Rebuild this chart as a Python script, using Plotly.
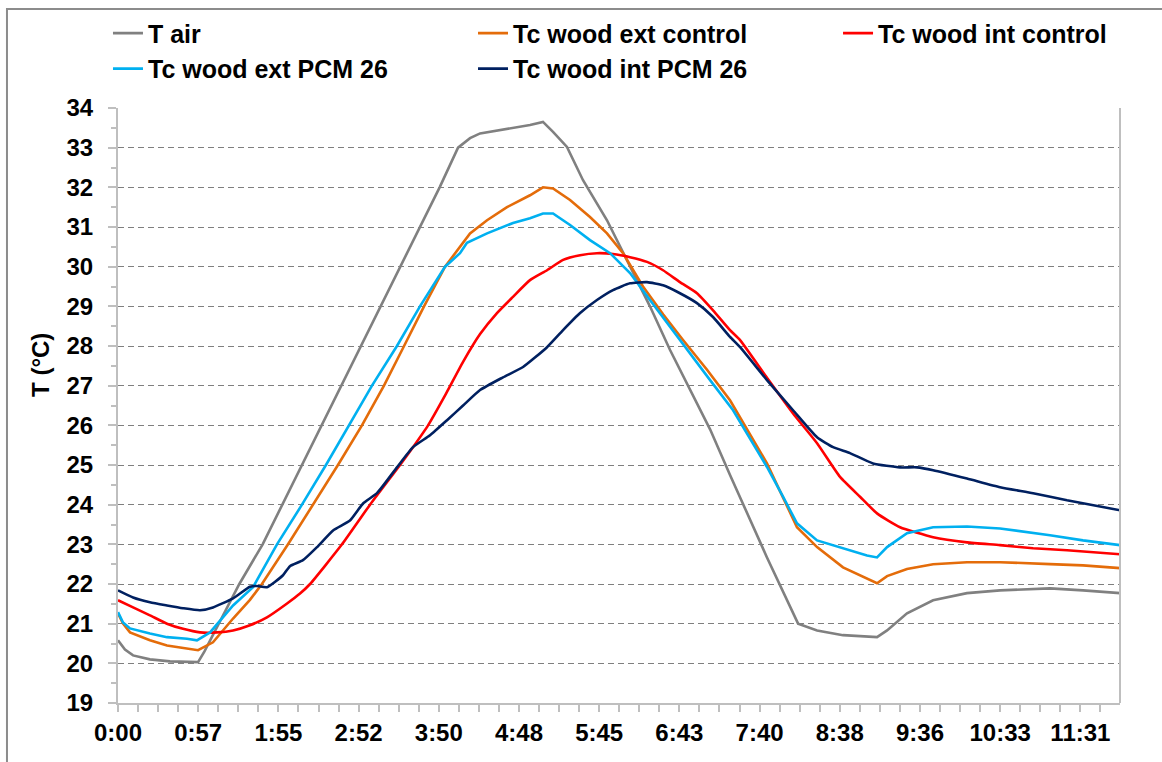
import plotly.graph_objects as go

# Elapsed time (minutes) and temperature (°C) for each sensor
t_air = [0, 5.0, 10.8, 22.9, 37.3, 57.4, 62.0, 87.0, 103.7, 117.8, 131.9, 146.0, 160.1,
         174.2, 188.3, 202.4, 216.5, 230.6, 243.8, 252.4, 259.6, 283.2, 295.4, 304.7, 311.9,
         321.9, 333.4, 350.6, 367.1, 381.4, 395.8, 410.1, 424.5, 438.8, 465.3, 487.6, 501.2,
         519.8, 544.2, 551.4, 565.7, 584.4, 608.7, 632.4, 668.2, 691.9, 718.4]
v_air = [20.58, 20.35, 20.2, 20.1, 20.05, 20.03, 20.3, 22.0, 23.0, 24.0, 25.0, 26.0, 27.0,
         28.0, 29.0, 30.0, 31.0, 32.0, 33.0, 33.24, 33.36, 33.49, 33.57, 33.65, 33.4,
         33.02, 32.18, 31.17, 30.0, 29.0, 27.9, 26.9, 25.9, 24.75, 22.67, 21.0, 20.83,
         20.71, 20.66, 20.83, 21.26, 21.59, 21.77, 21.84, 21.89, 21.84, 21.77]

t_ext_ctrl = [0, 3.6, 8.6, 22.9, 35.1, 49.5, 57.4, 68.1, 82.5, 94.6, 103.2, 121.9, 139.8,
              157.7, 174.9, 190.7, 205.1, 219.4, 234.5, 252.4, 264.6, 278.9, 295.4, 304.7,
              311.9, 324.1, 338.4, 350.6, 362.1, 376.4, 390.8, 405.1, 422.3, 438.8, 465.3,
              476.8, 486.8, 501.2, 519.8, 544.2, 551.4, 565.7, 584.4, 608.7, 632.4, 668.2,
              691.9, 718.4]
v_ext_ctrl = [21.26, 21.0, 20.78, 20.58, 20.45, 20.38, 20.33, 20.53, 21.13, 21.6, 22.0, 23.0,
              24.0, 25.0, 26.0, 27.0, 28.0, 29.0, 30.0, 30.84, 31.17, 31.5, 31.8, 32.0,
              31.97, 31.68, 31.25, 30.84, 30.34, 29.5, 28.8, 28.15, 27.4, 26.63, 25.04,
              24.2, 23.43, 22.93, 22.42, 22.02, 22.2, 22.38, 22.5, 22.55, 22.55, 22.5,
              22.47, 22.4]

t_int_ctrl = [0, 10.8, 22.9, 35.1, 46.6, 58.8, 71.0, 82.5, 94.6, 106.8, 121.2, 130.5, 137.7,
              160.6, 180.7, 202.2, 211.5, 222.3, 235.2, 247.4, 259.6, 271.7, 283.2, 295.4,
              307.6, 319.1, 331.3, 343.4, 354.9, 367.1, 379.3, 390.8, 402.9, 415.1, 426.6,
              438.8, 446.0, 465.3, 484.0, 501.2, 517.7, 532.0, 544.2, 560.7, 584.4, 608.7,
              632.4, 656.1, 680.4, 718.4]
v_int_ctrl = [21.59, 21.41, 21.21, 21.0, 20.87, 20.78, 20.78, 20.83, 20.96, 21.16, 21.51,
              21.76, 22.0, 23.0, 24.0, 25.0, 25.45, 26.0, 26.8, 27.6, 28.3, 28.83, 29.24,
              29.66, 29.91, 30.17, 30.29, 30.34, 30.32, 30.24, 30.12, 29.91, 29.61, 29.33,
              28.9, 28.4, 28.15, 27.2, 26.3, 25.55, 24.7, 24.2, 23.78, 23.43, 23.18, 23.05,
              22.98, 22.9, 22.85, 22.75]

t_ext_pcm = [0, 3.6, 8.6, 22.9, 35.1, 49.5, 56.6, 66.0, 82.5, 96.8, 114.0, 131.9, 149.1,
             165.6, 182.1, 200.0, 216.5, 234.5, 245.2, 250.2, 264.6, 283.2, 295.4, 304.7,
             311.9, 324.1, 338.4, 352.8, 367.1, 381.4, 395.8, 410.1, 424.5, 441.0, 465.3,
             476.8, 486.8, 501.2, 519.8, 537.0, 544.2, 551.4, 565.7, 584.4, 608.7, 632.4,
             668.2, 691.9, 718.4]
v_ext_pcm = [21.29, 21.03, 20.88, 20.75, 20.66, 20.62, 20.58, 20.78, 21.46, 21.92, 23.0,
             24.0, 25.0, 26.0, 27.0, 28.0, 29.0, 30.0, 30.34, 30.6, 30.84, 31.1, 31.22,
             31.34, 31.34, 31.05, 30.67, 30.34, 29.84, 29.16, 28.48, 27.82, 27.14, 26.38,
             24.95, 24.2, 23.53, 23.1, 22.9, 22.72, 22.67, 22.93, 23.28, 23.43, 23.45,
             23.4, 23.23, 23.1, 22.98]

t_int_pcm = [0, 10.8, 22.9, 35.1, 46.6, 58.8, 68.1, 82.5, 94.6, 99.7, 106.8, 118.3, 123.3,
             132.6, 142.7, 154.2, 166.3, 175.7, 185.7, 200.0, 211.5, 223.7, 235.9, 247.4,
             259.6, 276.0, 290.4, 307.6, 319.1, 331.3, 343.4, 354.9, 367.1, 379.3, 390.8,
             402.9, 415.1, 426.6, 438.8, 446.0, 465.3, 484.0, 501.2, 512.7, 524.8, 541.3,
             560.7, 572.9, 584.4, 608.7, 632.4, 656.1, 680.4, 718.4]
v_int_pcm = [21.84, 21.66, 21.54, 21.46, 21.39, 21.34, 21.41, 21.64, 21.93, 21.95, 21.92,
             22.22, 22.45, 22.6, 22.93, 23.35, 23.6, 24.03, 24.29, 24.94, 25.45, 25.75,
             26.13, 26.5, 26.89, 27.21, 27.47, 27.97, 28.4, 28.83, 29.16, 29.41, 29.58,
             29.61, 29.53, 29.33, 29.08, 28.73, 28.23, 27.97, 27.14, 26.38, 25.7, 25.45,
             25.3, 25.04, 24.94, 24.94, 24.87, 24.66, 24.44, 24.29, 24.11, 23.86]

# Time-axis ticks every 57.5 minutes
tick_minutes = [0, 57.5, 115, 172.5, 230, 287.5, 345, 402.5, 460, 517.5, 575, 632.5, 690]
tick_labels = ["0:00", "0:57", "1:55", "2:52", "3:50", "4:48", "5:45", "6:43", "7:40",
               "8:38", "9:36", "10:33", "11:31"]

# name, times, values, colour, line shape, legend column
series = [
    ("T air", t_air, v_air, "#808080", "linear", "legend"),
    ("Tc wood ext control", t_ext_ctrl, v_ext_ctrl, "#E46C0A", "linear", "legend2"),
    ("Tc wood int control", t_int_ctrl, v_int_ctrl, "#FF0000", "spline", "legend3"),
    ("Tc wood ext PCM 26", t_ext_pcm, v_ext_pcm, "#00B0F0", "linear", "legend"),
    ("Tc wood int PCM 26", t_int_pcm, v_int_pcm, "#002060", "spline", "legend2"),
]

FONT = "Liberation Sans"
AXIS_GREY = "#bfbfbf"

fig = go.Figure()
for name, t, v, color, shape, leg in series:
    line = dict(color=color, width=2.6, shape=shape)
    if shape == "spline":
        line["smoothing"] = 0.5
    fig.add_trace(go.Scatter(x=t, y=v, mode="lines", name=name, line=line,
                             legend=leg, legendgroup=name))


def legend_column(x_paper):
    return dict(
        orientation="v", x=x_paper, xanchor="left", y=1.164, yanchor="top",
        font=dict(family=FONT, size=25, color="black", weight="bold"),
        bgcolor="rgba(0,0,0,0)", tracegroupgap=2, traceorder="normal",
    )


fig.update_layout(
    width=1162, height=762,
    margin=dict(l=118, r=42, t=108, b=59, autoexpand=False),
    paper_bgcolor="white", plot_bgcolor="white",
    font=dict(family=FONT, size=24, color="black", weight="bold"),
    showlegend=True,
    legend=legend_column(-0.01),
    legend2=legend_column(0.3543),
    legend3=legend_column(0.7186),
    xaxis=dict(
        range=[0, 718.4], tickmode="array", tickvals=tick_minutes, ticktext=tick_labels,
        showgrid=False, zeroline=False,
        showline=True, linecolor=AXIS_GREY, linewidth=2,
        ticks="outside", ticklen=7, tickcolor=AXIS_GREY, tickwidth=1.5,
        minor=dict(tickmode="linear", tick0=0, dtick=14.375, ticks="outside",
                   ticklen=7, tickcolor=AXIS_GREY, tickwidth=1.5, showgrid=False),
        tickfont=dict(family=FONT, size=24, color="black", weight="bold"),
    ),
    yaxis=dict(
        range=[19, 34], dtick=1, tick0=19,
        showgrid=True, gridcolor="#7f7f7f", gridwidth=1.3, griddash="6px,4px",
        zeroline=False,
        showline=True, linecolor=AXIS_GREY, linewidth=2,
        ticks="outside", ticklen=8, tickcolor=AXIS_GREY, tickwidth=1.5,
        ticklabelstandoff=10,
        minor=dict(dtick=0.5, ticks="outside", ticklen=5, tickcolor=AXIS_GREY,
                   tickwidth=1.5, showgrid=False),
        tickfont=dict(family=FONT, size=24, color="black", weight="bold"),
    ),
    annotations=[dict(
        text="T (°C)", xref="paper", yref="paper", x=-0.078, y=0.568,
        xanchor="center", yanchor="middle", textangle=-90, showarrow=False,
        font=dict(family=FONT, size=24, color="black", weight="bold"),
    )],
    shapes=[
        # right edge of the plot area
        dict(type="line", xref="paper", yref="paper", x0=1, x1=1, y0=0, y1=1,
             line=dict(color=AXIS_GREY, width=2)),
        # outer chart frame
        dict(type="rect", xref="paper", yref="paper", x0=-0.1108, x1=1.2,
             y0=-0.3, y1=1.1664, line=dict(color="#8c8c8c", width=2),
             fillcolor="rgba(0,0,0,0)", layer="below"),
    ],
)

fig.write_html("out.html")
